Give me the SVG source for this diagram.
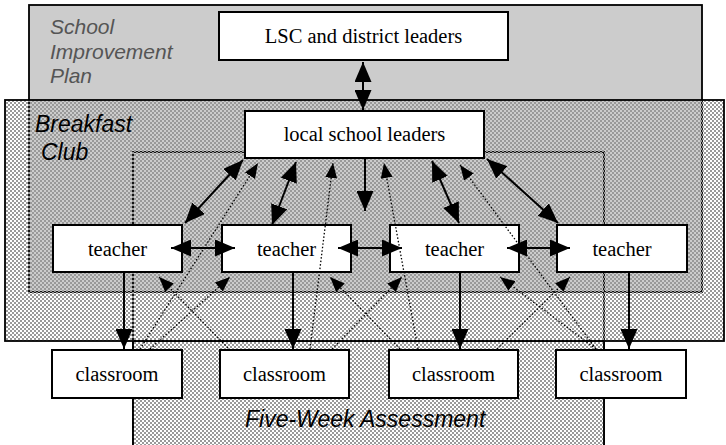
<svg xmlns="http://www.w3.org/2000/svg" width="726" height="445" viewBox="0 0 726 445">
<style>
.box{fill:#fff;stroke:#000;stroke-width:2}
.lbl{font-family:"Liberation Serif","Times New Roman",serif;font-size:20.5px;fill:#000;text-anchor:middle}
.area{font-family:"Liberation Sans",Arial,sans-serif;font-style:italic}
.sol{stroke:#000;stroke-width:2;fill:none;marker-start:url(#ah);marker-end:url(#ah)}
.one{stroke:#000;stroke-width:2;fill:none;marker-end:url(#ah)}
.dot{stroke:#000;stroke-width:1.3;fill:none;stroke-dasharray:1.5 2;marker-end:url(#ahs)}
</style>
<defs>
<pattern id="chk" width="4" height="4" patternUnits="userSpaceOnUse"><rect width="2" height="2" fill="#999"/><rect x="2" y="2" width="2" height="2" fill="#999"/></pattern>
<marker id="ah" viewBox="0 0 20 17" refX="20" refY="8.5" markerWidth="20" markerHeight="17" markerUnits="userSpaceOnUse" orient="auto-start-reverse"><path d="M0,0L20,8.5L0,17z" fill="#000"/></marker>
<marker id="ahs" viewBox="0 0 15 12" refX="15" refY="6" markerWidth="15" markerHeight="12" markerUnits="userSpaceOnUse" orient="auto"><path d="M0,0L15,6L0,12z" fill="#000"/></marker>
</defs>
<g id="areas">
<rect x="29" y="5" width="673" height="287" fill="#ccc" stroke="#000" stroke-width="1.8"/>
<rect x="133" y="152" width="471" height="300" fill="none" stroke="#000" stroke-width="1.8"/>
<rect x="133" y="341" width="471" height="110" fill="url(#chk)" stroke="#000" stroke-width="1.8"/>
<rect x="5" y="100" width="719" height="241" fill="url(#chk)" stroke="#000" stroke-width="1.8"/>
<text class="area" font-size="21" fill="#555" x="50" y="34">School</text>
<text class="area" font-size="21" fill="#555" x="50" y="59">Improvement</text>
<text class="area" font-size="21" fill="#555" x="50" y="83">Plan</text>
<text class="area" font-size="23" fill="#000" x="35" y="132">Breakfast</text>
<text class="area" font-size="23" fill="#000" x="41" y="160">Club</text>
<text class="area" font-size="23" fill="#000" x="245" y="427">Five-Week Assessment</text>
</g>
<g id="lsc"><rect class="box" x="219" y="12" width="289" height="48"/><text class="lbl" x="363.5" y="43">LSC and district leaders</text></g>
<g id="lsl"><rect class="box" x="245" y="111" width="239" height="47"/><text class="lbl" x="364.5" y="141">local school leaders</text></g>
<g id="teacher1"><rect class="box" x="53" y="225" width="129" height="47"/><text class="lbl" x="117.5" y="256">teacher</text></g>
<g id="teacher2"><rect class="box" x="222" y="225" width="129" height="47"/><text class="lbl" x="286.5" y="256">teacher</text></g>
<g id="teacher3"><rect class="box" x="390" y="225" width="129" height="47"/><text class="lbl" x="454.5" y="256">teacher</text></g>
<g id="teacher4"><rect class="box" x="557" y="225" width="130" height="47"/><text class="lbl" x="622" y="256">teacher</text></g>
<g id="classroom1"><rect class="box" x="52" y="350" width="130" height="48"/><text class="lbl" x="117" y="381">classroom</text></g>
<g id="classroom2"><rect class="box" x="220" y="350" width="129" height="48"/><text class="lbl" x="284.5" y="381">classroom</text></g>
<g id="classroom3"><rect class="box" x="389" y="350" width="129" height="48"/><text class="lbl" x="453.5" y="381">classroom</text></g>
<g id="classroom4"><rect class="box" x="556" y="350" width="130" height="48"/><text class="lbl" x="621" y="381">classroom</text></g>
<g id="connectors">
<line class="sol" x1="363" y1="62" x2="363" y2="110"/>
<line class="one" x1="365" y1="158" x2="365" y2="211"/>
<line class="sol" x1="185" y1="223" x2="243" y2="160"/>
<line class="sol" x1="272" y1="225" x2="296" y2="162"/>
<line class="sol" x1="459" y1="223" x2="432" y2="161"/>
<line class="sol" x1="558" y1="223" x2="487" y2="159"/>
<line class="sol" x1="171" y1="248" x2="235" y2="248"/>
<line class="sol" x1="338" y1="248" x2="402" y2="248"/>
<line class="sol" x1="507" y1="248" x2="570" y2="248"/>
<line class="one" x1="124" y1="273" x2="124" y2="349"/>
<line class="one" x1="293" y1="273" x2="293" y2="349"/>
<line class="one" x1="460" y1="273" x2="460" y2="349"/>
<line class="one" x1="629" y1="273" x2="629" y2="349"/>
<line class="dot" x1="140" y1="349" x2="258" y2="163"/>
<line class="dot" x1="150" y1="349" x2="230" y2="277"/>
<line class="dot" x1="228" y1="348" x2="159" y2="277"/>
<line class="dot" x1="310" y1="349" x2="333" y2="163"/>
<line class="dot" x1="332" y1="349" x2="402" y2="277"/>
<line class="dot" x1="400" y1="349" x2="330" y2="277"/>
<line class="dot" x1="418" y1="349" x2="384" y2="163"/>
<line class="dot" x1="497" y1="349" x2="570" y2="277"/>
<line class="dot" x1="596" y1="349" x2="500" y2="277"/>
<line class="dot" x1="596" y1="349" x2="460" y2="165"/>
</g>
</svg>
